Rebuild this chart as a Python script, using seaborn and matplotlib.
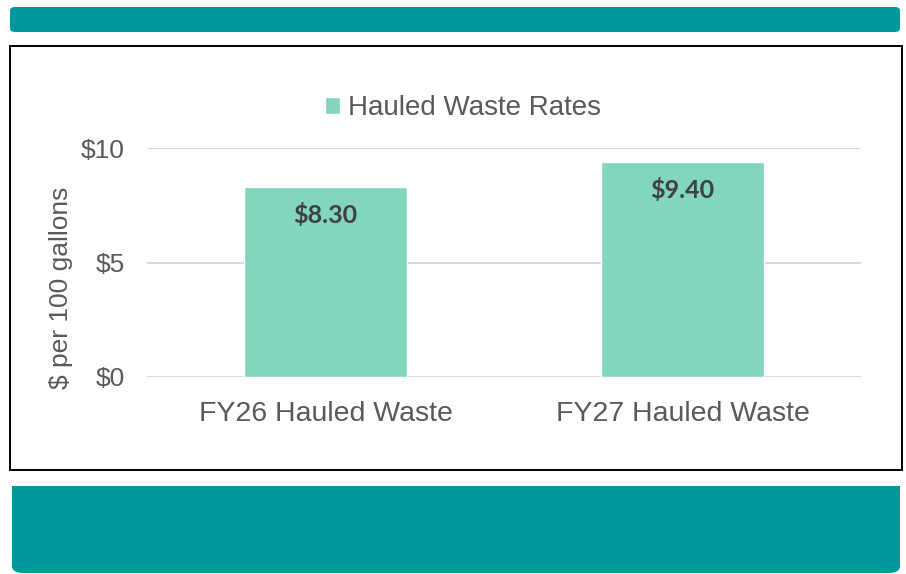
import matplotlib
matplotlib.use("Agg")
import matplotlib.pyplot as plt
import seaborn as sns
import pandas as pd
from matplotlib.patches import FancyBboxPatch, Rectangle, Patch

# Data
categories = ["FY26 Hauled Waste", "FY27 Hauled Waste"]
rates = [8.30, 9.40]
series_name = "Hauled Waste Rates"
y_ticks = [0, 5, 10]
y_tick_labels = ["$0", "$5", "$10"]

df = pd.DataFrame({"category": categories, "rate": rates})

sns.set_theme(style="white")
plt.rcParams["font.family"] = ["Liberation Sans", "DejaVu Sans"]

W, H = 906, 574
fig = plt.figure(figsize=(W / 100, H / 100), dpi=100)
teal = "#009999"
bar_color = "#82d5be"
text_grey = "#595959"

# decorative panels (figure pixel coords -> fractions)
def fx(px):
    return px / W

def fy(py):
    return 1 - py / H

top = FancyBboxPatch((fx(10), fy(32)), fx(890), (32 - 7) / H,
                     boxstyle="round,pad=0,rounding_size=0.006",
                     transform=fig.transFigure, facecolor=teal, edgecolor="none",
                     zorder=-2)
fig.patches.append(top)
bottom = FancyBboxPatch((fx(12), fy(573)), fx(888), (573 - 486) / H,
                        boxstyle="round,pad=0,rounding_size=0.012",
                        transform=fig.transFigure, facecolor=teal, edgecolor="none",
                        zorder=-2)
fig.patches.append(bottom)
bottom_sq = Rectangle((fx(12), fy(530)), fx(888), (530 - 486) / H,
                      transform=fig.transFigure, facecolor=teal, edgecolor="none",
                      zorder=-2)
fig.patches.append(bottom_sq)
frame = Rectangle((fx(10), fy(470)), fx(892), (470 - 46) / H,
                  transform=fig.transFigure, facecolor="white",
                  edgecolor="black", linewidth=1.4, zorder=-1)
fig.patches.append(frame)

ax = fig.add_axes([fx(147), fy(377), fx(714), (377 - 148) / H])
ax.set_zorder(2)
sns.barplot(data=df, x="category", y="rate", color=bar_color, width=0.457,
            saturation=1, ax=ax, zorder=3)

ax.set_ylim(0, 10)
ax.set_yticks(y_ticks)
ax.set_yticklabels(y_tick_labels)
ax.grid(axis="y", color="#d9d9d9", linewidth=1.5, zorder=0)
ax.set_axisbelow(True)
for s in ax.spines.values():
    s.set_visible(False)
ax.tick_params(axis="y", length=0, pad=16, labelsize=19, labelcolor=text_grey)
ax.tick_params(axis="x", length=0, pad=17, labelsize=20.5, labelcolor=text_grey)
ax.set_xlabel("")
ax.set_ylabel("$ per 100 gallons", fontsize=19, color=text_grey)
ax.yaxis.set_label_coords(-0.103, 0.39)
ax.patch.set_alpha(0)

# value labels inside the bars
for i, v in enumerate(rates):
    ax.annotate(f"${v:.2f}", (i, v), xytext=(0, -29), textcoords="offset points",
                ha="center", va="bottom", fontsize=18, fontweight="bold",
                color="#404040", family=["Lato", "DejaVu Sans"])

fig.legend(handles=[Patch(facecolor=bar_color, label=series_name)],
           loc="center", bbox_to_anchor=(fx(463), fy(108)), frameon=False,
           fontsize=20, labelcolor=text_grey, handlelength=0.55, handleheight=0.55,
           handletextpad=0.3)

fig.savefig("out.png", dpi=100, facecolor="white")
